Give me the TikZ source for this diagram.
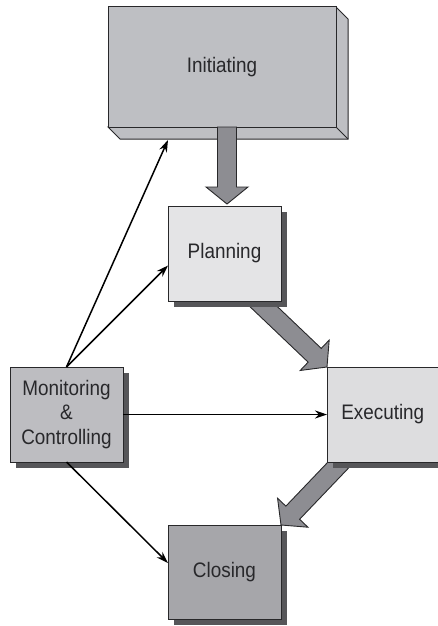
\documentclass[tikz,border=0pt]{standalone}
\usepackage{fontspec}
\setmainfont{Liberation Sans}[FakeStretch=0.9]
\usetikzlibrary{calc,shadows,arrows.meta}
\definecolor{inigray}{RGB}{190,191,195}
\definecolor{plangray}{RGB}{228,228,230}
\definecolor{exegray}{RGB}{221,221,223}
\definecolor{mongray}{RGB}{189,189,193}
\definecolor{closegray}{RGB}{166,166,170}
\definecolor{arrgray}{RGB}{141,141,146}
\definecolor{shadowgray}{RGB}{86,86,89}
\definecolor{edgegray}{RGB}{40,40,42}
\definecolor{textgray}{RGB}{40,40,43}
\tikzset{
  boxline/.style={draw=edgegray, line width=1pt, line join=miter},
  procbox/.style={boxline, rectangle, outer sep=0pt, inner sep=2pt,
    text=textgray, align=center,
    font=\fontsize{21}{24.5}\selectfont},
  shadowed/.style={drop shadow={shadow xshift=6pt, shadow yshift=-6pt,
    fill=shadowgray, opacity=1}},
  bigarrow/.style={fill=arrgray, draw=edgegray, line width=0.9pt, line join=miter},
  thinarrow/.style={draw=black, line width=1.5pt,
    -{Stealth[length=12pt,width=8pt]}},
}
\newcommand{\bigarr}[2]{%
  \coordinate (bh) at ($(#2)!17pt!(#1)$);
  \filldraw[bigarrow] ($(#1)!9.5pt!90:(#2)$) -- ($(bh)!9.5pt!90:(#2)$)
    -- ($(bh)!21pt!90:(#2)$) -- (#2) -- ($(bh)!21pt!-90:(#2)$)
    -- ($(bh)!9.5pt!-90:(#2)$) -- ($(#1)!9.5pt!-90:(#2)$) -- cycle;
}
\begin{document}
\begin{tikzpicture}[x=1pt,y=-1pt]
\useasboundingbox (0,0) rectangle (438,626);
\clip (0,0) rectangle (438,626);

% node geometry (centres)
\path (224.5,253.5) node[procbox, minimum width=113pt, minimum height=95pt] (plan) {};
\path (382.75,414.5) node[procbox, minimum width=111.5pt, minimum height=95pt] (exe) {};
\path (224.5,572) node[procbox, minimum width=113pt, minimum height=94pt] (clo) {};

% big arrows behind the boxes
\coordinate (t2) at ([shift={(17.5pt,-32.5pt)}]plan.center);
\bigarr{t2}{exe.north west}
\coordinate (t3) at ([shift={(28pt,14.5pt)}]exe.south west);
\bigarr{t3}{clo.north east}

% Initiating 3D box
\node[procbox, fill=inigray, minimum width=228pt, minimum height=120pt] (ini) at (222,67) {};
\filldraw[boxline, fill=inigray] (ini.north east) -- ++(12,12)
   -- ($(ini.south east)+(12,12)$) -- ($(ini.south west)+(12,12)$)
   -- (ini.south west) -- (ini.south east) -- cycle;
\draw[boxline] (ini.south east) -- ++(12,12);
\node[procbox, fill=inigray, minimum width=228pt, minimum height=120pt] at (ini.center) {Initiating};
\coordinate (inib) at ($(ini.south west)+(60,13)$);

% Initiating -> Planning big arrow
\coordinate (t1) at ([xshift=5pt]ini.south);
\coordinate (h1) at ([yshift=2pt]t1 |- plan.north);
\bigarr{t1}{h1}

% boxes with shadows
\node[procbox, shadowed, fill=plangray, minimum width=113pt, minimum height=95pt] at (plan.center) {Planning};
\node[procbox, shadowed, fill=exegray, minimum width=111.5pt, minimum height=95pt] at (exe.center) {Executing};
\node[procbox, shadowed, fill=closegray, minimum width=113pt, minimum height=94pt] at (clo.center) {Closing};
\node[procbox, shadowed, fill=mongray, minimum width=113pt, minimum height=95pt] (mon) at (66.5,414.5) {Monitoring\\\&\\Controlling};

% thin arrows
\draw[thinarrow] (mon.north) -- (inib);
\draw[thinarrow] (mon.north) -- ([yshift=-12pt]plan.west);
\draw[thinarrow] (mon.east) -- (exe.west);
\draw[thinarrow] (mon.south) -- ([yshift=9pt]clo.west);
\end{tikzpicture}
\end{document}
